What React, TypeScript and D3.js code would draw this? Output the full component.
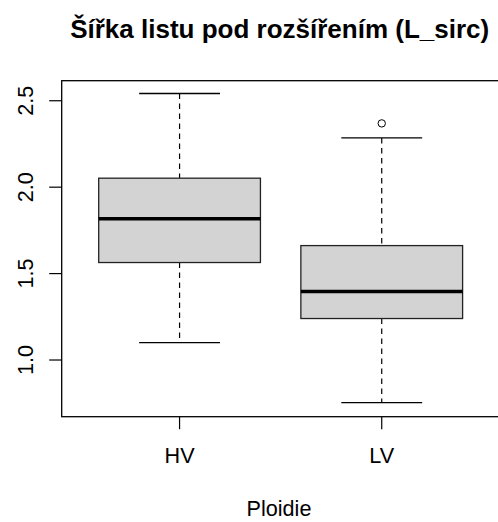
import React from 'react';
import * as d3 from 'd3';

// Boxplot statistics
const groups = ['HV', 'LV'];
const lowerWhisker = [1.1, 0.754];
const q1 = [1.564, 1.24];
const median = [1.817, 1.396];
const q3 = [2.052, 1.662];
const upperWhisker = [2.542, 2.285];
const outliers = [[], [2.369]];
const yTicks = [1.0, 1.5, 2.0, 2.5];

const title = 'Šířka listu pod rozšířením (L_sirc)';
const xTitle = 'Ploidie';

const W = 498;
const H = 522;
const plot = { left: 61.7, right: 499.6, top: 80.7, bottom: 416.7 };
const font = '"Liberation Sans", Arial, sans-serif';

const App = () => {
    const x = d3.scaleLinear().domain([0.417, 2.583]).range([plot.left, plot.right]);
    const y = d3.scaleLinear().domain([0.672, 2.616]).range([plot.bottom, plot.top]);

    const boxHalf = x(0.4) - x(0);
    const capHalf = x(0.2) - x(0);

    return (
        <svg width={W} height={H} style={{ position: 'absolute', left: 0, top: 0, background: '#fff' }}>
            <text x={(plot.left + plot.right) / 2 - 1} y={37.5} textAnchor="middle"
                  fontFamily={font} fontWeight="bold" fontSize={26}>{title}</text>

            {groups.map((g, i) => {
                const cx = x(i + 1);
                return (
                    <g key={g}>
                        {/* whiskers */}
                        <line x1={cx} x2={cx} y1={y(upperWhisker[i])} y2={y(q3[i])}
                              stroke="#000" strokeWidth={1.2} strokeDasharray="5.5,4.5" />
                        <line x1={cx} x2={cx} y1={y(q1[i])} y2={y(lowerWhisker[i])}
                              stroke="#000" strokeWidth={1.2} strokeDasharray="5.5,4.5" />
                        <line x1={cx - capHalf} x2={cx + capHalf} y1={y(upperWhisker[i])} y2={y(upperWhisker[i])}
                              stroke="#000" strokeWidth={1.3} />
                        <line x1={cx - capHalf} x2={cx + capHalf} y1={y(lowerWhisker[i])} y2={y(lowerWhisker[i])}
                              stroke="#000" strokeWidth={1.3} />
                        {/* box */}
                        <rect x={cx - boxHalf} y={y(q3[i])} width={boxHalf * 2} height={y(q1[i]) - y(q3[i])}
                              fill="#d3d3d3" stroke="#222" strokeWidth={1.3} />
                        <line x1={cx - boxHalf} x2={cx + boxHalf} y1={y(median[i])} y2={y(median[i])}
                              stroke="#000" strokeWidth={3.6} />
                        {outliers[i].map((v, j) => (
                            <circle key={j} cx={cx} cy={y(v)} r={3.7} fill="none" stroke="#000" strokeWidth={1} />
                        ))}
                    </g>
                );
            })}

            {/* frame */}
            <rect x={plot.left} y={plot.top} width={plot.right - plot.left} height={plot.bottom - plot.top}
                  fill="none" stroke="#000" strokeWidth={1.3} />

            {/* y axis */}
            {yTicks.map((t) => (
                <g key={t}>
                    <line x1={plot.left - 12.5} x2={plot.left} y1={y(t)} y2={y(t)} stroke="#000" strokeWidth={1.2} />
                    <text transform={`translate(32.5,${y(t)}) rotate(-90)`} textAnchor="middle"
                          fontFamily={font} fontSize={21.6}>{t.toFixed(1)}</text>
                </g>
            ))}

            {/* x axis */}
            {groups.map((g, i) => (
                <g key={g}>
                    <line x1={x(i + 1)} x2={x(i + 1)} y1={plot.bottom} y2={plot.bottom + 12.5} stroke="#000" strokeWidth={1.2} />
                    <text x={x(i + 1)} y={463.3} textAnchor="middle" fontFamily={font} fontSize={21.6}>{g}</text>
                </g>
            ))}
            <text x={279} y={515.5} textAnchor="middle" fontFamily={font} fontSize={21.6}>{xTitle}</text>
        </svg>
    );
};

export default App;
